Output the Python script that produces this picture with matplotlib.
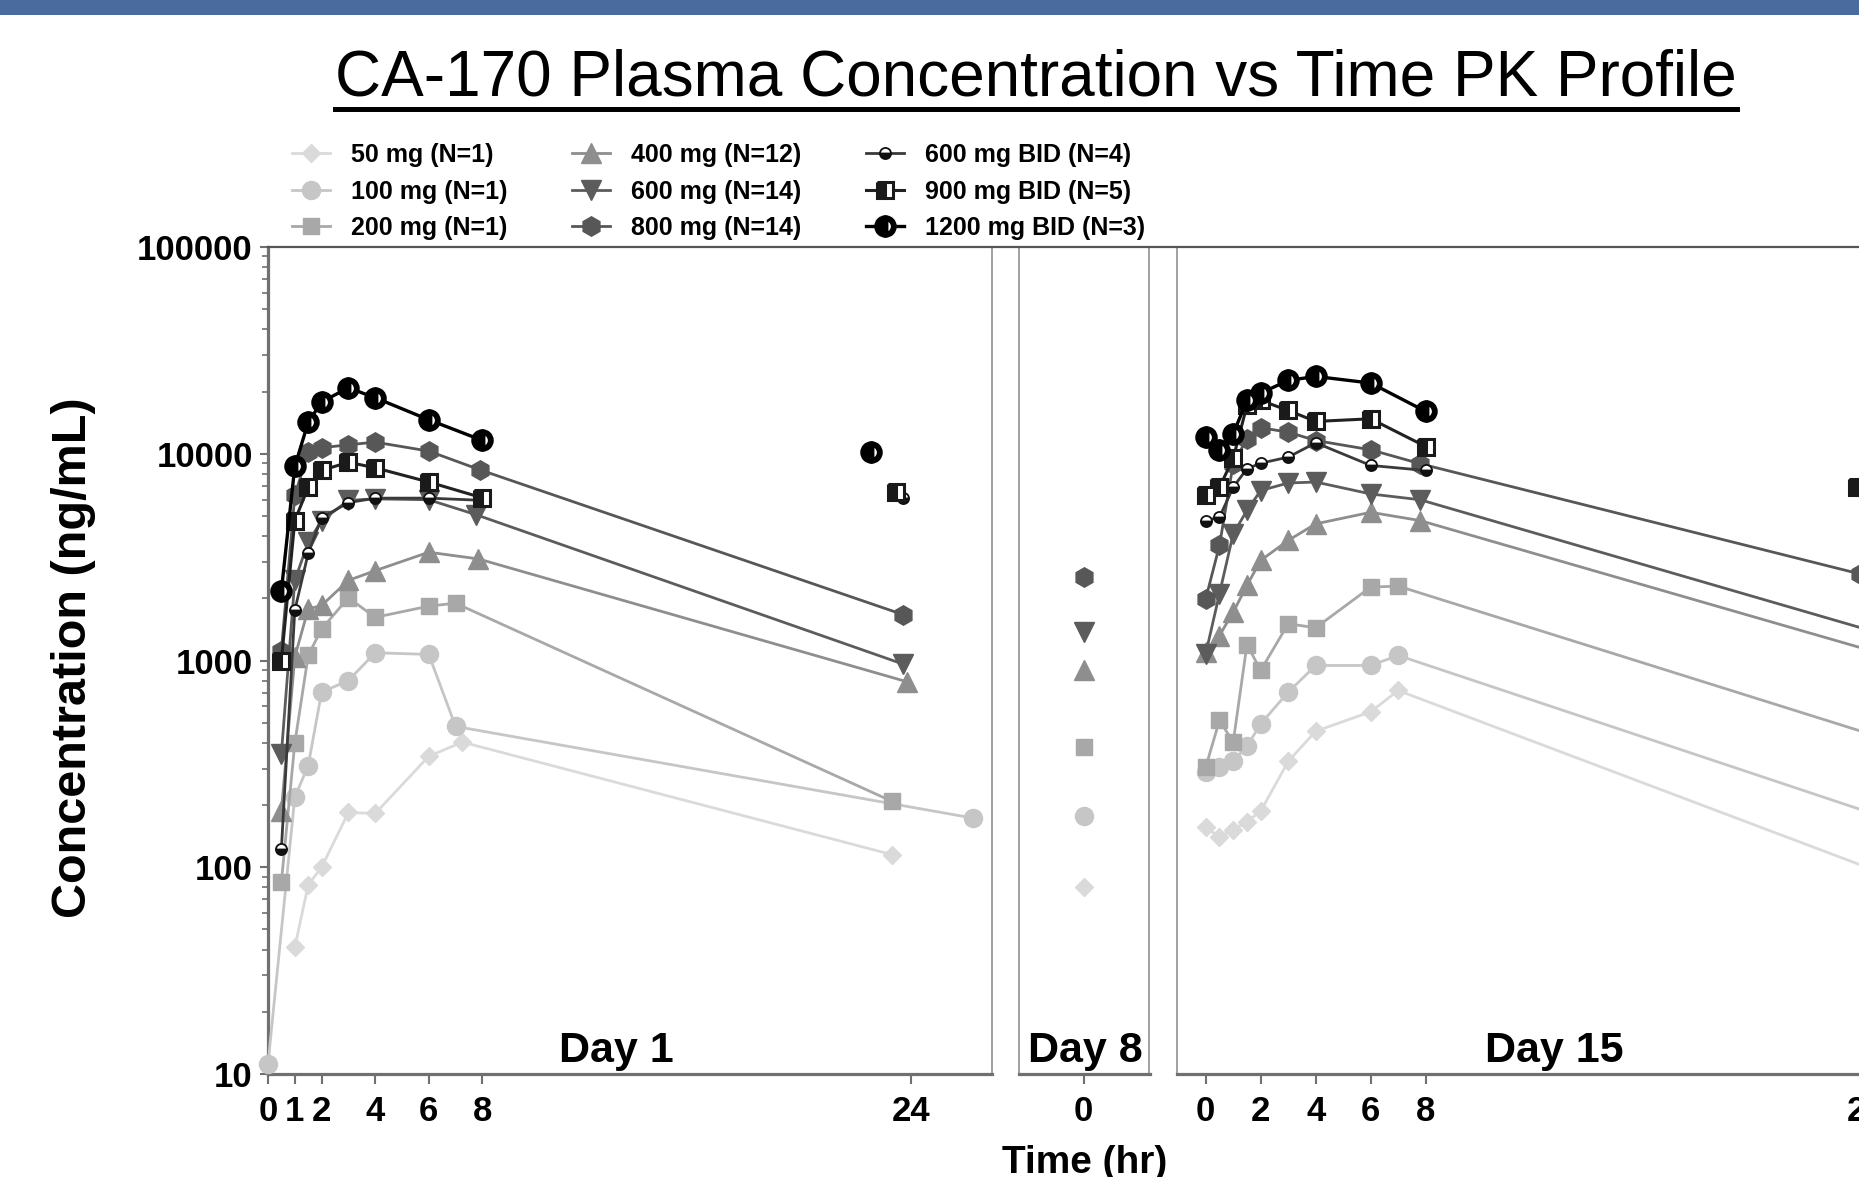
import matplotlib
matplotlib.use("Agg")
import matplotlib.pyplot as plt
from matplotlib.lines import Line2D
from matplotlib.patches import Rectangle
from matplotlib.transforms import blended_transform_factory
from matplotlib.ticker import FixedLocator, NullFormatter, LogLocator

plt.rcParams['font.family'] = ['Liberation Sans', 'DejaVu Sans']

# ---------------- data (hr, ng/mL) ----------------
labels = ['50 mg (N=1)', '100 mg (N=1)', '200 mg (N=1)',
          '400 mg (N=12)', '600 mg (N=14)', '800 mg (N=14)',
          '600 mg BID (N=4)', '900 mg BID (N=5)', '1200 mg BID (N=3)']

# Day 1
d1_t_50 = [1, 1.5, 2, 3, 4, 6, 7.25, 23.3]
d1_c_50 = [41, 82, 100, 184, 182, 344, 403, 115]
d1_t_100 = [0, 1, 1.5, 2, 3, 4, 6, 7, 26.3]
d1_c_100 = [11.2, 218, 310, 703, 800, 1090, 1070, 480, 173]
d1_t_200 = [0.5, 1, 1.5, 2, 3, 4, 6, 7, 23.3]
d1_c_200 = [85, 398, 1058, 1422, 2010, 1617, 1832, 1893, 208]
d1_t_400 = [0.5, 1, 1.5, 2, 3, 4, 6, 7.85, 23.85]
d1_c_400 = [188, 1040, 1774, 1846, 2440, 2720, 3340, 3100, 789]
d1_t_600 = [0.5, 1, 1.5, 2, 3, 4, 6, 7.75, 23.7]
d1_c_600 = [354, 2440, 3730, 4750, 5950, 6050, 5990, 5080, 961]
d1_t_800 = [0.5, 1, 1.5, 2, 3, 4, 6, 7.9, 23.7]
d1_c_800 = [1117, 6290, 10180, 10690, 11050, 11380, 10300, 8370, 1667]
d1_t_bid = [0.5, 1, 1.5, 2, 3, 4, 6, 8]
d1_c_600bid = [123, 1750, 3300, 4900, 5800, 6100, 6100, 5950]
d1_c_900bid = [1000, 4750, 6880, 8300, 9100, 8550, 7300, 6120]
d1_c_1200bid = [2180, 8680, 14200, 17800, 20850, 18660, 14600, 11600]
# evening (pre-2nd dose) samples for BID arms, not joined to the profile
d1_trough_t = [23.7, 23.45, 22.5]
d1_trough_c = [6080, 6500, 10200]

# Day 8 trough (single-dose arms)
d8_c = [80, 177, 383, 900, 1370, 2540]

# Day 15
d15_t = [0, 0.5, 1, 1.5, 2, 3, 4, 6, 7, 24.3]
d15_c_50 = [156, 140, 152, 166, 187, 325, 455, 565, 716, 97]
d15_c_100 = [288, 305, 328, 384, 494, 703, 946, 946, 1058, 181]
d15_c_200 = [305, 513, 403, 1194, 896, 1506, 1440, 2265, 2290, 435]
d15_t_hi = [0, 0.5, 1, 1.5, 2, 3, 4, 6, 7.8, 24.3]
d15_c_400 = [1100, 1320, 1714, 2307, 3050, 3810, 4580, 5210, 4750, 1105]
d15_c_600 = [1077, 2105, 4100, 5320, 6640, 7220, 7300, 6390, 5990, 1380]
d15_t_800 = [0, 0.5, 1, 1.5, 2, 3, 4, 6, 7.8, 23.8]
d15_c_800 = [1986, 3600, 8950, 11820, 13360, 12720, 11590, 10450, 8950, 2620]
d15_t_bid = [0, 0.5, 1, 1.5, 2, 3, 4, 6, 8]
d15_c_600bid = [4750, 4930, 6890, 8460, 9000, 9630, 11300, 8780, 8300]
d15_c_900bid = [6350, 6880, 9500, 17130, 18100, 16200, 14330, 14760, 10840]
d15_c_1200bid = [12030, 10370, 12490, 18120, 19640, 22630, 23660, 21970, 16020]
d15_trough_t_900bid = [23.67]
d15_trough_c_900bid = [6890]

# ---------------- styles ----------------
styles = [
    dict(color='#DADADA', marker='D', ms=9, mec='#DADADA'),
    dict(color='#C6C6C6', marker='o', ms=13, mec='#C6C6C6'),
    dict(color='#A8A8A8', marker='s', ms=12, mec='#A8A8A8'),
    dict(color='#8E8E8E', marker='^', ms=14, mec='#8E8E8E'),
    dict(color='#5C5C5C', marker='v', ms=14, mec='#5C5C5C'),
    dict(color='#575757', marker='h', ms=14, mec='#575757'),
    dict(color='#3A3A3A', marker='o', ms=8, fillstyle='bottom', mfc='#111111',
         markerfacecoloralt='white', mec='#111111', mew=1.3),
    dict(color='#222222', marker='s', ms=11, fillstyle='left', mfc='#1A1A1A',
         markerfacecoloralt='white', mec='#1A1A1A', mew=2.2),
    dict(color='#000000', marker='o', ms=12, fillstyle='left', mfc='#000000',
         markerfacecoloralt='white', mec='#000000', mew=4.2),
]
lws = [2.0, 2.0, 2.0, 2.0, 2.0, 2.0, 2.0, 2.2, 2.4]

W, H = 1859, 1177
fig = plt.figure(figsize=(W / 100, H / 100), dpi=100)

ybot, ytop = 1074, 247
axb = (H - ybot) / H
axh = (ybot - ytop) / H
ax1 = fig.add_axes([268 / W, axb, (992.3 - 268) / W, axh])
ax2 = fig.add_axes([1019.3 / W, axb, (1149.5 - 1019.3) / W, axh], sharey=ax1)
ax3 = fig.add_axes([1176.7 / W, axb, 28.055 * 27.5 / W, axh], sharey=ax1)

# Day 1
d1_series = [(d1_t_50, d1_c_50), (d1_t_100, d1_c_100), (d1_t_200, d1_c_200),
             (d1_t_400, d1_c_400), (d1_t_600, d1_c_600), (d1_t_800, d1_c_800),
             (d1_t_bid, d1_c_600bid), (d1_t_bid, d1_c_900bid), (d1_t_bid, d1_c_1200bid)]
handles = []
for i, (t, c) in enumerate(d1_series):
    h, = ax1.plot(t, c, lw=lws[i], clip_on=False, zorder=3 + i, label=labels[i], **styles[i])
    handles.append(h)
for k in range(3):
    ax1.plot([d1_trough_t[k]], [d1_trough_c[k]], lw=0, clip_on=False, zorder=10 + k,
             **styles[6 + k])

# Day 8
for i, c in enumerate(d8_c):
    ax2.plot([0], [c], lw=0, clip_on=False, zorder=3 + i, **styles[i])

# Day 15
d15_series = [(d15_t, d15_c_50), (d15_t, d15_c_100), (d15_t, d15_c_200),
              (d15_t_hi, d15_c_400), (d15_t_hi, d15_c_600), (d15_t_800, d15_c_800),
              (d15_t_bid, d15_c_600bid), (d15_t_bid, d15_c_900bid), (d15_t_bid, d15_c_1200bid)]
for i, (t, c) in enumerate(d15_series):
    ax3.plot(t, c, lw=lws[i], clip_on=False, zorder=3 + i, **styles[i])
ax3.plot(d15_trough_t_900bid, d15_trough_c_900bid, lw=0, clip_on=False, zorder=12, **styles[7])

# ---------------- axes cosmetics ----------------
axis_grey = '#707070'
thin_grey = '#A0A0A0'
ax1.set_yscale('log')
ax1.set_ylim(10, 100000)
ax1.set_xlim(0, 27.03)
ax2.set_xlim(-2.4, 2.46)
ax3.set_xlim(-1.055, 27.0)

ax1.yaxis.set_major_locator(FixedLocator([10, 100, 1000, 10000, 100000]))
ax1.set_yticklabels(['10', '100', '1000', '10000', '100000'])
ax1.yaxis.set_minor_locator(LogLocator(base=10, subs=range(2, 10)))
ax1.yaxis.set_minor_formatter(NullFormatter())

ax1.set_xticks([0, 1, 2, 4, 6, 8, 24])
ax2.set_xticks([0])
ax3.set_xticks([0, 2, 4, 6, 8, 24])

for ax in (ax1, ax2, ax3):
    ax.patch.set_alpha(0)
    ax.spines['top'].set_visible(False)
    ax.spines['bottom'].set_linewidth(2.3)
    ax.spines['bottom'].set_color(axis_grey)
    ax.spines['left'].set_linewidth(1.4)
    ax.spines['left'].set_color(thin_grey)
    ax.spines['right'].set_linewidth(1.4)
    ax.spines['right'].set_color(thin_grey)
    ax.tick_params(axis='x', direction='out', length=7, width=1.5, color=axis_grey,
                   labelsize=25, pad=8)
    for lab in ax.get_xticklabels():
        lab.set_fontweight('bold')

ax1.spines['left'].set_linewidth(2.3)
ax1.spines['left'].set_color(axis_grey)
ax1.tick_params(axis='y', which='major', direction='out', length=6, width=1.5,
                color=axis_grey, labelsize=25, pad=5)
ax1.tick_params(axis='y', which='minor', direction='out', length=4, width=1.2, color=axis_grey)
for lab in ax1.get_yticklabels():
    lab.set_fontweight('bold')
for ax in (ax2, ax3):
    ax.tick_params(axis='y', which='both', left=False, labelleft=False)
ax3.spines['right'].set_visible(False)

# panel names
for ax, xpos, name in ((ax1, 13.0, 'Day 1'), (ax2, 0.05, 'Day 8'), (ax3, 12.67, 'Day 15')):
    tr = blended_transform_factory(ax.transData, ax.transAxes)
    ax.text(xpos, 0.0145, name, transform=tr, ha='center', va='baseline',
            fontsize=31, fontweight='bold')

# top frame line running across all panels
fig.add_artist(Line2D([268 / W, 1.0], [1 - ytop / H, 1 - ytop / H],
                      transform=fig.transFigure, color='#555555', lw=1.6))

# blue banner
fig.add_artist(Rectangle((0, 1 - 15 / H), 1, 15 / H, transform=fig.transFigure,
                         facecolor='#4A6B9E', edgecolor='none'))

# title with underline
ty = 1 - 95 / H
title = fig.text(1036 / W, ty, 'CA-170 Plasma Concentration vs Time PK Profile',
                 ha='center', va='baseline', fontsize=46)
fig.canvas.draw()
bb = title.get_window_extent()
fig.add_artist(Line2D([bb.x0 / W, bb.x1 / W], [ty - 14 / H, ty - 14 / H],
                      transform=fig.transFigure, color='black', lw=3.6))

fig.text(73.5 / W, 1 - 658 / H, 'Concentration (ng/mL)', rotation=90,
         ha='center', va='center', fontsize=35, fontweight='bold')
fig.text(1085 / W, 0.003, 'Time (hr)', ha='center', va='baseline',
         fontsize=28, fontweight='bold')

fig.legend(handles=handles, labels=labels, ncol=3, loc='upper left',
           bbox_to_anchor=(292 / W, 1 - 143 / H), frameon=False,
           prop=dict(weight='bold', size=18), handlelength=1.5,
           handletextpad=0.85, columnspacing=2.6, labelspacing=0.5,
           borderpad=0, borderaxespad=0)

fig.savefig('out.png', dpi=100)
